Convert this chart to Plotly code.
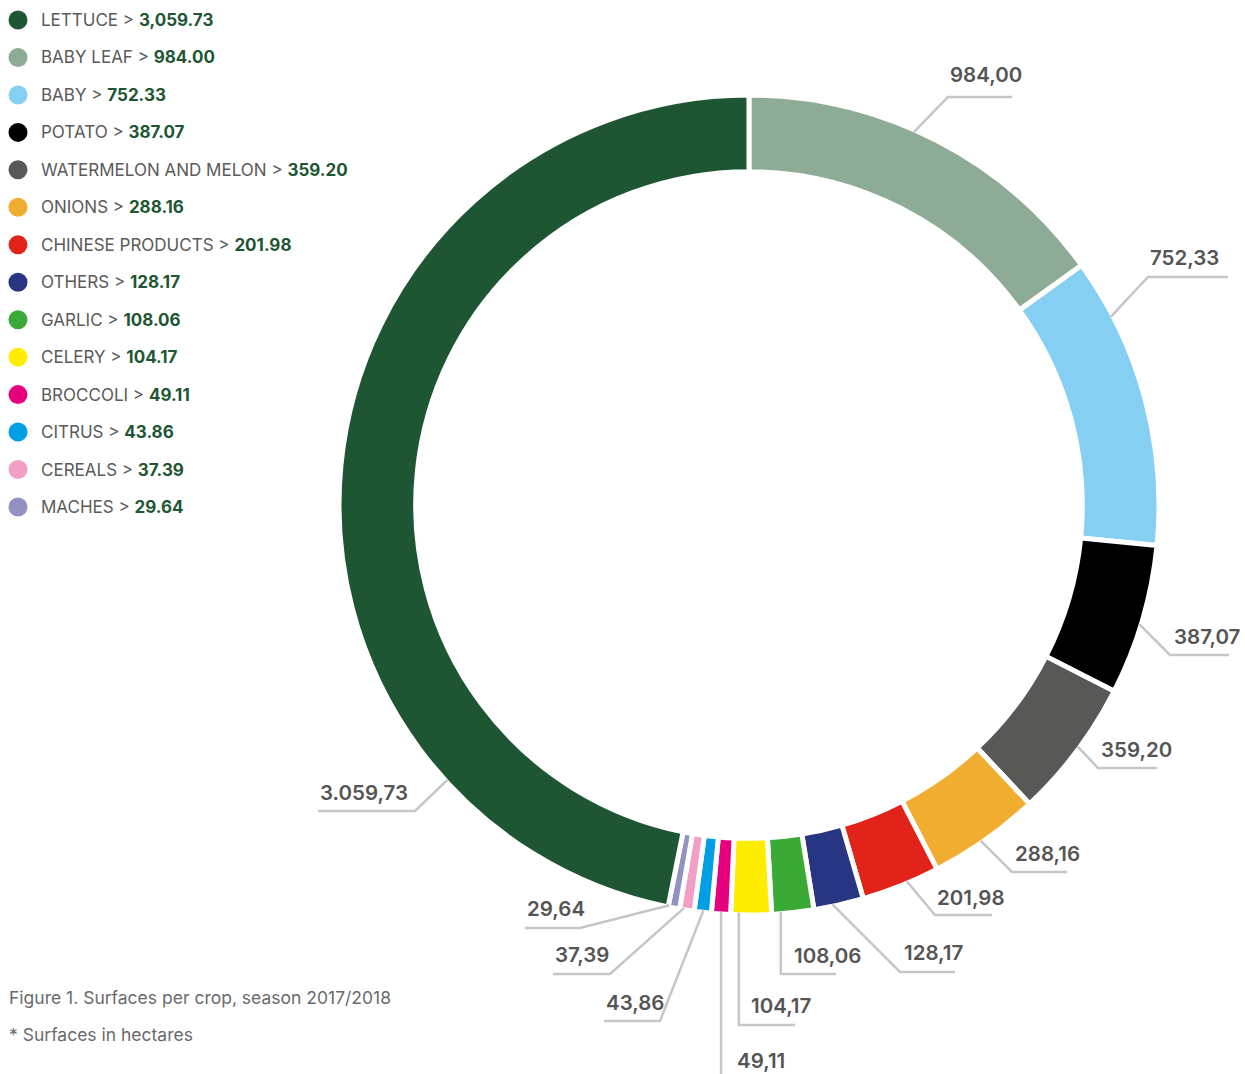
import math
import plotly.graph_objects as go

W, H = 1245, 1074

# ---------------- data ----------------
CROPS = ["LETTUCE", "BABY LEAF", "BABY", "POTATO", "WATERMELON AND MELON", "ONIONS",
         "CHINESE PRODUCTS", "OTHERS", "GARLIC", "CELERY", "BROCCOLI", "CITRUS",
         "CEREALS", "MACHES"]
SURFACES = [3059.73, 984.00, 752.33, 387.07, 359.20, 288.16, 201.98, 128.17,
            108.06, 104.17, 49.11, 43.86, 37.39, 29.64]
COLORS = ["#1e5633", "#8eab96", "#85cff3", "#000000", "#585857", "#f1ad2f",
          "#e2231a", "#283583", "#3aa935", "#ffed00", "#e6007e", "#009fe3",
          "#f29fc6", "#9191c2"]
CAPTION = "Figure 1. Surfaces per crop, season 2017/2018"
NOTE = "* Surfaces in hectares"

# ---------------- layout parameters (pixels) ----------------
CX, CY, R = 749, 505, 410
HOLE = 0.813
# per crop (legend order): anchor fraction within slice, elbow x (None = vertical), elbow y,
# end x of horizontal line (None = none), text left x, text centre y
LABEL_LAYOUT = {
    "LETTUCE": (0.215, 415, 811, 318, 318, 792),
    "BABY LEAF": (0.44, 948, 97, 1012, 948, 75),
    "BABY": (0.20, 1148, 277, 1228, 1148, 257),
    "POTATO": (0.53, 1170, 655, 1229, 1172, 636),
    "WATERMELON AND MELON": (0.47, 1098, 768, 1157, 1099, 749),
    "ONIONS": (0.54, 1012, 872, 1067, 1013, 853),
    "CHINESE PRODUCTS": (0.41, 935, 915, 992, 935, 897),
    "OTHERS": (0.62, 900, 972, 955, 902, 952),
    "GARLIC": (0.78, None, 974, 836, 792, 955),
    "CELERY": (0.80, None, 1025, 795, 749, 1005),
    "BROCCOLI": (0.50, None, 1095, None, 735, 1060),
    "CITRUS": (0.47, 660, 1021, 604, 604, 1002),
    "CEREALS": (0.70, 610, 974, 553, 553, 954),
    "MACHES": (0.90, 580, 928, 525, 525, 908),
}
LEG_X0, LEG_Y0, LEG_STEP = 18, 20, 37.46


def px(x):
    return x / W


def py(y):
    return 1 - y / H


def eu(v):
    s = f"{v:,.2f}"
    return s.replace(",", "#").replace(".", ",").replace("#", ".")


# pie order: clockwise from 12 o'clock, lettuce last
order = list(range(1, len(CROPS))) + [0]
pie_labels = [CROPS[i] for i in order]
pie_vals = [SURFACES[i] for i in order]
pie_cols = [COLORS[i] for i in order]

fig = go.Figure()
fig.add_trace(go.Pie(
    labels=pie_labels, values=pie_vals, sort=False, direction="clockwise",
    rotation=0, hole=HOLE, textinfo="none", hoverinfo="label+value",
    marker=dict(colors=pie_cols, line=dict(color="white", width=5)),
    domain=dict(x=[px(CX - R), px(CX + R)], y=[py(CY + R), py(CY - R)]),
    showlegend=False,
))

shapes, annotations = [], []
total = sum(pie_vals)
cum = 0.0
for lab, v in zip(pie_labels, pie_vals):
    a0 = cum / total * 360
    a1 = (cum + v) / total * 360
    cum += v
    frac, ex, ey, endx, tx, ty = LABEL_LAYOUT[lab]
    ang = math.radians(a0 + frac * (a1 - a0))
    sx = CX + (R - 2) * math.sin(ang)
    sy = CY - (R - 2) * math.cos(ang)
    if ex is None:
        ex = sx
    path = f"M {px(sx)},{py(sy)} L {px(ex)},{py(ey)}"
    if endx is not None:
        path += f" L {px(endx)},{py(ey)}"
    shapes.append(dict(type="path", xref="paper", yref="paper", path=path,
                       line=dict(color="#c6c6c6", width=2.5), layer="above"))
    annotations.append(dict(xref="paper", yref="paper", x=px(tx), y=py(ty),
                            xanchor="left", yanchor="middle", showarrow=False,
                            text=eu(v),
                            font=dict(family="Inter", size=20.5, color="#555555", weight=600)))

# legend
for i, (c, v, col) in enumerate(zip(CROPS, SURFACES, COLORS)):
    yc = LEG_Y0 + i * LEG_STEP
    shapes.append(dict(type="circle", xref="paper", yref="paper",
                       xsizemode="pixel", ysizemode="pixel",
                       xanchor=px(LEG_X0), yanchor=py(yc),
                       x0=-9.5, x1=9.5, y0=-9.5, y1=9.5,
                       fillcolor=col, line=dict(width=0)))
    annotations.append(dict(xref="paper", yref="paper", x=px(39), y=py(yc),
                            xanchor="left", yanchor="middle", showarrow=False,
                            text=f"{c} > <span style='color:#1e5633'><b>{v:,.2f}</b></span>",
                            font=dict(family="Inter", size=17, color="#5a5a5a")))

annotations.append(dict(xref="paper", yref="paper", x=px(7), y=py(997),
                        xanchor="left", yanchor="middle", showarrow=False, text=CAPTION,
                        font=dict(family="Inter", size=17.5, color="#6a6a6a")))
annotations.append(dict(xref="paper", yref="paper", x=px(7), y=py(1034),
                        xanchor="left", yanchor="middle", showarrow=False, text=NOTE,
                        font=dict(family="Inter", size=17.5, color="#6a6a6a")))

fig.update_layout(width=W, height=H, margin=dict(l=0, r=0, t=0, b=0),
                  paper_bgcolor="white", plot_bgcolor="white",
                  shapes=shapes, annotations=annotations)
fig.write_html("out.html")
